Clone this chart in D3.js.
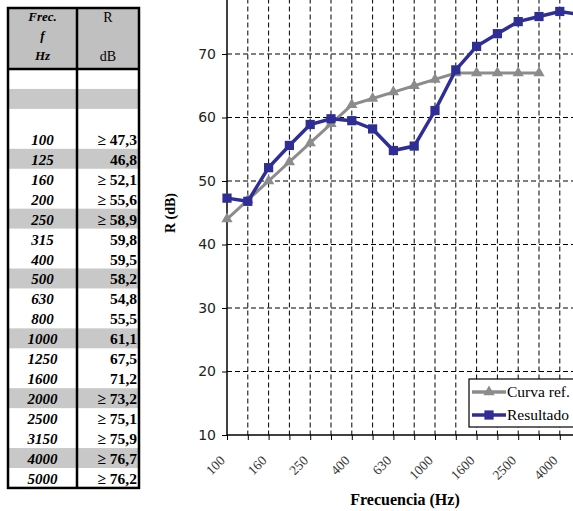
<!DOCTYPE html>
<html lang="es">
<head>
<meta charset="UTF-8">
<title>R (dB) vs frecuencia</title>
<script src="https://cdn.jsdelivr.net/npm/d3@7"></script>
<style>
  body { margin: 0; background: #fff; }
  svg { display: block; }
</style>
</head>
<body>
<div id="chart"></div>
<script>
// data
const freqs = [100, 125, 160, 200, 250, 315, 400, 500, 630, 800, 1000, 1250, 1600, 2000, 2500, 3150, 4000, 5000];
const resultado = [47.3, 46.8, 52.1, 55.6, 58.9, 59.8, 59.5, 58.2, 54.8, 55.5, 61.1, 67.5, 71.2, 73.2, 75.1, 75.9, 76.7, 76.2];
const curvaRef = [44, 47, 50, 53, 56, 59, 62, 63, 64, 65, 66, 67, 67, 67, 67, 67];
const tablaR = ["≥ 47,3", "46,8", "≥ 52,1", "≥ 55,6", "≥ 58,9", "59,8", "59,5", "58,2", "54,8", "55,5", "61,1", "67,5", "71,2", "≥ 73,2", "≥ 75,1", "≥ 75,9", "≥ 76,7", "≥ 76,2"];
const yTicks = [10, 20, 30, 40, 50, 60, 70];
const xLabels = [100, 160, 250, 400, 630, 1000, 1600, 2500, 4000];

const width = 573, height = 511;
const svg = d3.select("#chart").append("svg")
    .attr("width", width).attr("height", height);

// ---- table ----
const tb = {left: 8, mid: 77, right: 139, top: 8, head: 69, rowH: 19.95};
const rows = ["", "", ""].concat(freqs.map(String));
const table = svg.append("g").attr("font-family", "Liberation Serif, Times New Roman, serif");

table.append("rect").attr("x", tb.left).attr("y", tb.top)
    .attr("width", tb.right - tb.left).attr("height", tb.head - tb.top).attr("fill", "#c0c0c0");
rows.forEach((r, i) => {
    const y = tb.head + i * tb.rowH;
    if (i % 3 === 1) {
        table.append("rect").attr("x", tb.left).attr("y", y)
            .attr("width", tb.right - tb.left).attr("height", tb.rowH).attr("fill", "#c8c8c8");
    }
    if (i >= 3) {
        table.append("text").attr("x", (tb.left + tb.mid) / 2).attr("y", y + tb.rowH / 2 + 6)
            .attr("text-anchor", "middle").attr("font-size", 15)
            .attr("font-style", "italic").attr("font-weight", "bold").text(r);
        table.append("text").attr("x", tb.right - 2).attr("y", y + tb.rowH / 2 + 6)
            .attr("text-anchor", "end").attr("font-size", 15.5)
            .attr("font-weight", "bold").text(tablaR[i - 3]);
    }
});
const tbBottom = tb.head + rows.length * tb.rowH;
// header text
[["Frec.", 21], ["f", 40], ["Hz", 60]].forEach(([t, y]) => {
    table.append("text").attr("x", (tb.left + tb.mid) / 2).attr("y", y)
        .attr("text-anchor", "middle").attr("font-size", 13)
        .attr("font-style", "italic").attr("font-weight", "bold").text(t);
});
[["R", 22], ["dB", 61]].forEach(([t, y]) => {
    table.append("text").attr("x", (tb.mid + tb.right) / 2).attr("y", y)
        .attr("text-anchor", "middle").attr("font-size", 14).text(t);
});
// borders
table.append("rect").attr("x", tb.left).attr("y", tb.top)
    .attr("width", tb.right - tb.left).attr("height", tbBottom - tb.top)
    .attr("fill", "none").attr("stroke", "#000").attr("stroke-width", 2.5);
table.append("line").attr("x1", tb.mid).attr("x2", tb.mid).attr("y1", tb.top).attr("y2", tbBottom)
    .attr("stroke", "#000").attr("stroke-width", 2.5);
table.append("line").attr("x1", tb.left).attr("x2", tb.right).attr("y1", tb.head).attr("y2", tb.head)
    .attr("stroke", "#000").attr("stroke-width", 2.5);

// ---- chart ----
const x0 = 227, step = 20.8;
const xScale = d3.scalePoint().domain(freqs).range([x0, x0 + step * (freqs.length - 1)]);
const yScale = d3.scaleLinear().domain([10, 80]).range([435, -9.5]);

// grid
const grid = svg.append("g").attr("stroke", "#000").attr("stroke-width", 1).attr("stroke-dasharray", "5,3");
grid.selectAll(".vg").data(freqs.slice(1)).join("line")
    .attr("x1", d => xScale(d)).attr("x2", d => xScale(d))
    .attr("y1", yScale(80)).attr("y2", yScale(10));
grid.selectAll(".hg").data(yTicks.slice(1)).join("line")
    .attr("x1", x0).attr("x2", width)
    .attr("y1", d => yScale(d)).attr("y2", d => yScale(d));

// axes
const yAxis = svg.append("g").attr("transform", `translate(${x0},0)`)
    .call(d3.axisLeft(yScale).tickValues(yTicks).tickSize(5).tickSizeOuter(0));
yAxis.selectAll("text").attr("font-family", "DejaVu Sans, Verdana, sans-serif")
    .attr("font-size", 14).attr("fill", "#222").attr("x", -11);

const xAxis = svg.append("g").attr("transform", `translate(0,${yScale(10)})`)
    .call(d3.axisBottom(xScale).tickSize(5).tickSizeOuter(0)
        .tickFormat(d => xLabels.includes(d) ? d : ""));
xAxis.selectAll("text")
    .attr("font-family", "Liberation Serif, Times New Roman, serif").attr("font-size", 13.5)
    .attr("fill", "#333")
    .attr("text-anchor", "end")
    .attr("transform", "translate(-5,23) rotate(-45)")
    .attr("dy", "0.35em").attr("y", 0).attr("x", 0);
svg.selectAll(".domain").attr("stroke", "#000").attr("stroke-width", 1.5);
svg.selectAll(".tick line").attr("stroke", "#000");
xAxis.select(".domain").attr("d", `M${x0},0H${width}`);
yAxis.select(".domain").attr("d", `M0,${yScale(10)}V${yScale(80)}`);

// axis titles
svg.append("text").attr("transform", `translate(175,213) rotate(-90)`)
    .attr("text-anchor", "middle").attr("font-family", "Liberation Serif, serif")
    .attr("font-weight", "bold").attr("font-size", 14).text("R (dB)");
svg.append("text").attr("x", 405).attr("y", 505)
    .attr("text-anchor", "middle").attr("font-family", "Liberation Serif, serif")
    .attr("font-weight", "bold").attr("font-size", 16).text("Frecuencia (Hz)");

// lines
const gray = "#8c8c8c", blue = "#2e2e96";
const line = d3.line().x((d, i) => xScale(freqs[i])).y(d => yScale(d));
const tri = d3.symbol().type(d3.symbolTriangle).size(55);
const sq = d3.symbol().type(d3.symbolSquare).size(85);

svg.append("path").datum(curvaRef).attr("d", line)
    .attr("fill", "none").attr("stroke", gray).attr("stroke-width", 3);
svg.selectAll(".tri").data(curvaRef).join("path")
    .attr("transform", (d, i) => `translate(${xScale(freqs[i])},${yScale(d)})`)
    .attr("d", tri).attr("fill", gray);

svg.append("path").datum(resultado).attr("d", line)
    .attr("fill", "none").attr("stroke", blue).attr("stroke-width", 3.5);
svg.selectAll(".sq").data(resultado).join("path")
    .attr("transform", (d, i) => `translate(${xScale(freqs[i])},${yScale(d)})`)
    .attr("d", sq).attr("fill", blue);

// legend
const lg = svg.append("g").attr("transform", "translate(469,379)");
lg.append("rect").attr("width", 130).attr("height", 48)
    .attr("fill", "#fff").attr("stroke", "#000").attr("stroke-width", 1.2);
[["Curva ref.", gray, tri, 13], ["Resultado", blue, sq, 36]].forEach(([t, c, sym, y]) => {
    lg.append("line").attr("x1", 3).attr("x2", 37).attr("y1", y).attr("y2", y)
        .attr("stroke", c).attr("stroke-width", 3.5);
    lg.append("path").attr("transform", `translate(20,${y})`).attr("d", sym).attr("fill", c);
    lg.append("text").attr("x", 38).attr("y", y + 5)
        .attr("font-family", "Liberation Serif, serif").attr("font-size", 15.5).text(t);
});
</script>
</body>
</html>
